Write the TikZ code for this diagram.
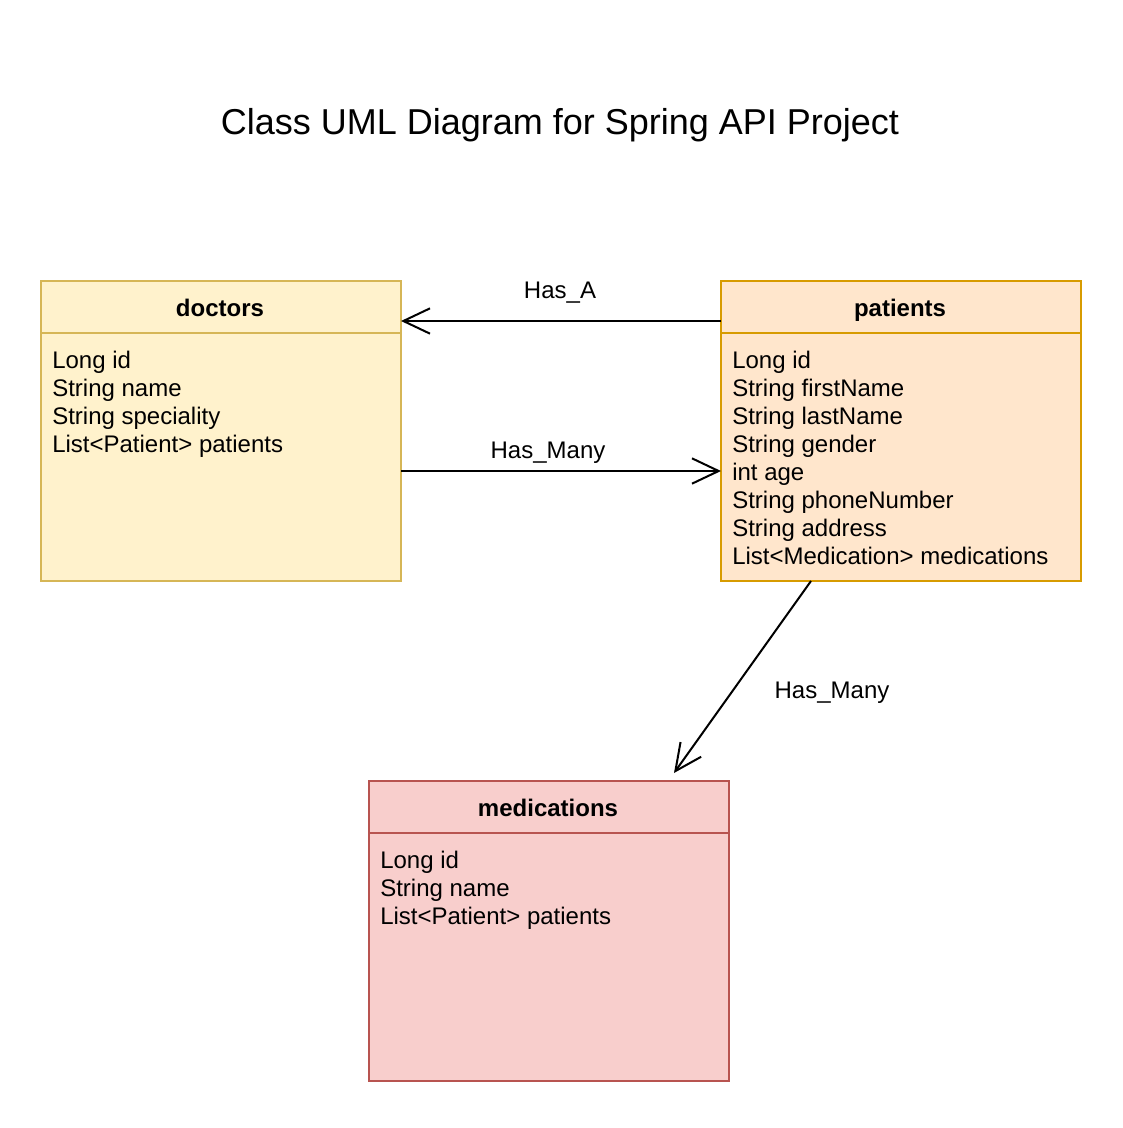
\documentclass[tikz,border=0pt]{standalone}
\usepackage{fontspec}
\setmainfont{Liberation Sans}
\usetikzlibrary{arrows.meta}
\definecolor{yfill}{HTML}{FFF2CC}\definecolor{ydraw}{HTML}{D6B656}
\definecolor{ofill}{HTML}{FFE6CC}\definecolor{odraw}{HTML}{D79B00}
\definecolor{rfill}{HTML}{F8CECC}\definecolor{rdraw}{HTML}{B85450}
\tikzset{
  classbox/.style={line width=1.5pt},
  hdr/.style={anchor=base, inner sep=0pt, font=\fontsize{18}{21}\selectfont\bfseries},
  attr/.style={anchor=base west, inner sep=0pt, font=\fontsize{18}{21}\selectfont},
  lbl/.style={anchor=base, inner sep=0pt, font=\fontsize{18}{21}\selectfont},
  rel/.style={line width=1.5pt, -{Straight Barb[length=20pt,width=19pt,line width=1.5pt]}},
}
\begin{document}
\begin{tikzpicture}[x=0.75pt,y=-0.75pt]
\fill[white] (0,0) rectangle (1122,1128);
\useasboundingbox (0,0) rectangle (1122,1128);
\node[anchor=base, inner sep=0pt, font=\fontsize{27}{32}\selectfont] (title) at (560,134) {Class UML Diagram for Spring API Project};
% doctors
\draw[classbox, draw=ydraw, fill=yfill] (41,281) rectangle (401,581);
\draw[classbox, draw=ydraw] (41,333) -- (401,333);
\coordinate (docR1) at (401,321);
\coordinate (docR2) at (401,471);
\node[hdr] (doch) at (220,316) {doctors};
\foreach \t [count=\i] in {Long id,String name,String speciality,List<Patient> patients}
  \node[attr] (doc\i) at (52,{368+28*(\i-1)}) {\t};
% patients
\draw[classbox, draw=odraw, fill=ofill] (721,281) rectangle (1081,581);
\draw[classbox, draw=odraw] (721,333) -- (1081,333);
\coordinate (patL1) at (721,321);
\coordinate (patL2) at (721,471);
\coordinate (patB) at (811,581);
\node[hdr] (path) at (900,316) {patients};
\foreach \t [count=\i] in {Long id,String firstName,String lastName,String gender,int age,String phoneNumber,String address,List<Medication> medications}
  \node[attr] (pat\i) at (732,{368+28*(\i-1)}) {\t};
% medications
\draw[classbox, draw=rdraw, fill=rfill] (369,781) rectangle (729,1081);
\draw[classbox, draw=rdraw] (369,833) -- (729,833);
\coordinate (medT) at (674,773);
\node[hdr] (medh) at (548,816) {medications};
\foreach \t [count=\i] in {Long id,String name,List<Patient> patients}
  \node[attr] (med\i) at (380,{868+28*(\i-1)}) {\t};
% relations
\draw[rel] (patL1) -- (docR1);
\node[lbl] (hasa) at (560,298) {Has\_A};
\draw[rel] (docR2) -- (patL2);
\node[lbl] (hasm1) at (548,458) {Has\_Many};
\draw[rel] (patB) -- (medT);
\node[lbl] (hasm2) at (832,698) {Has\_Many};
\end{tikzpicture}
\end{document}
